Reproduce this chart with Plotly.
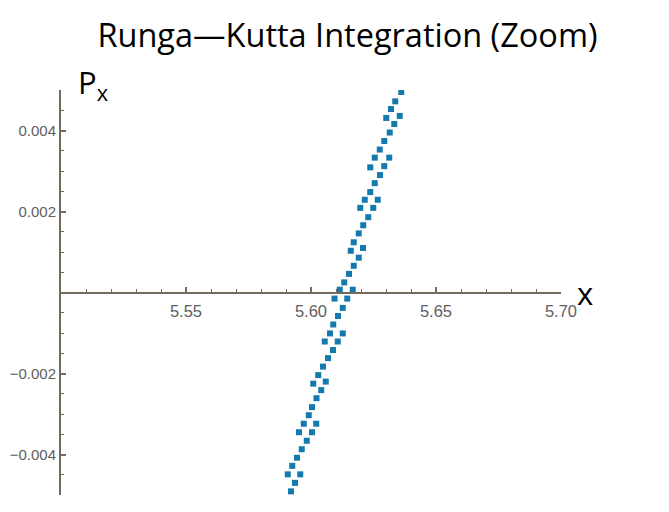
import plotly.graph_objects as go

# Data
x_vals = [5.6361, 5.6337, 5.6320, 5.6355, 5.6301, 5.6333, 5.6315, 5.6293, 5.6275, 5.6255,
          5.6313, 5.6237, 5.6293, 5.6276, 5.6255, 5.6237, 5.6215, 5.6267, 5.6197, 5.6249,
          5.6229, 5.6209, 5.6191, 5.6171, 5.6159, 5.6208, 5.6191, 5.6171, 5.6152, 5.6133,
          5.6115, 5.6167, 5.6094, 5.6145, 5.6127, 5.6108, 5.6089, 5.6076, 5.6127, 5.6055,
          5.6107, 5.6088, 5.6068, 5.6048, 5.6029, 5.6009, 5.6059, 5.6041, 5.6022, 5.6004,
          5.5991, 5.5971, 5.6021, 5.5952, 5.6004, 5.5983, 5.5963, 5.5944, 5.5925, 5.5907,
          5.5957, 5.5936, 5.5920]
px_vals = [0.00495, 0.00472, 0.00453, 0.00436, 0.00431, 0.00416, 0.00395, 0.00374, 0.00353, 0.00333,
           0.00333, 0.00309, 0.00312, 0.00290, 0.00270, 0.00248, 0.00229, 0.00229, 0.00209, 0.00209,
           0.00186, 0.00166, 0.00146, 0.00124, 0.00103, 0.00110, 0.00086, 0.00066, 0.00046, 0.00025,
           0.00007, 0.00007, -0.00015, -0.00015, -0.00038, -0.00058, -0.00079, -0.00101, -0.00101, -0.00121,
           -0.00121, -0.00142, -0.00162, -0.00183, -0.00204, -0.00225, -0.00220, -0.00241, -0.00261, -0.00283,
           -0.00303, -0.00324, -0.00324, -0.00345, -0.00345, -0.00366, -0.00387, -0.00408, -0.00428, -0.00449,
           -0.00449, -0.00470, -0.00491]

x_tick_vals = [5.55, 5.60, 5.65, 5.70]
x_tick_text = ["5.55", "5.60", "5.65", "5.70"]
y_tick_vals = [-0.004, -0.002, 0.002, 0.004]
y_tick_text = ["\u22120.004", "\u22120.002", "0.002", "0.004"]

title_text = "Runga\u2014Kutta Integration (Zoom)"

AXIS_COLOR = "#746b5e"
LABEL_COLOR = "#606060"
MARK_COLOR = "#1479ad"

fig = go.Figure()
fig.add_trace(go.Scatter(
    x=x_vals, y=px_vals, mode="markers",
    marker=dict(symbol="square", size=6, color=MARK_COLOR, line=dict(width=0)),
    showlegend=False, hoverinfo="skip"))

# page body has an 8px margin, so the figure is drawn 8px in and down
OFF = 8
W, H = 669 - OFF, 512 - OFF
L, R, T, B = 61 - OFF, 108, 90 - OFF, 17

fig.update_layout(
    width=W, height=H,
    margin=dict(l=L, r=R, t=T, b=B, pad=0, autoexpand=False),
    paper_bgcolor="white", plot_bgcolor="white",
    showlegend=False,
    title=dict(text=title_text, xref="container", yref="container",
               x=(347.5 - OFF) / W, y=1 - (36 - OFF) / H, xanchor="center", yanchor="middle",
               font=dict(family="Open Sans", size=32.5, color="black"), automargin=False),
    xaxis=dict(range=[5.50, 5.70], anchor="free", position=0.5, side="bottom",
               automargin=False,
               showgrid=False, zeroline=False, showline=True, linecolor=AXIS_COLOR, linewidth=2,
               ticks="inside", ticklen=5, tickwidth=1.5, tickcolor=AXIS_COLOR,
               tickvals=x_tick_vals, ticktext=x_tick_text,
               tickfont=dict(family="Liberation Sans", size=16.5, color=LABEL_COLOR),
               ticklabelstandoff=4,
               minor=dict(dtick=0.01, tick0=5.5, ticks="inside", ticklen=3, tickcolor=AXIS_COLOR, tickwidth=1),
               fixedrange=True),
    yaxis=dict(range=[-0.005, 0.005], domain=[0, 1],
               automargin=False,
               showgrid=False, zeroline=False, showline=True, linecolor=AXIS_COLOR, linewidth=2,
               ticks="inside", ticklen=5, tickwidth=1.5, tickcolor=AXIS_COLOR,
               tickvals=y_tick_vals, ticktext=y_tick_text,
               tickfont=dict(family="Liberation Sans", size=15, color=LABEL_COLOR),
               ticklabelstandoff=0,
               minor=dict(dtick=0.0005, tick0=0, ticks="inside", ticklen=3, tickcolor=AXIS_COLOR, tickwidth=1),
               fixedrange=True),
)

plot_w = W - L - R
plot_h = H - T - B

fig.add_annotation(text="P<sub>x</sub>", xref="paper", yref="paper",
                   x=(76 - OFF - L) / plot_w, y=(H - B - (84 - OFF)) / plot_h,
                   xanchor="left", yanchor="middle", showarrow=False,
                   font=dict(family="Open Sans", size=31, color="black"))
fig.add_annotation(text="x", xref="paper", yref="paper",
                   x=(575 - OFF - L) / plot_w, y=0.5,
                   xanchor="left", yanchor="middle", showarrow=False,
                   font=dict(family="Open Sans", size=31, color="black"))

fig.write_html("out.html")
